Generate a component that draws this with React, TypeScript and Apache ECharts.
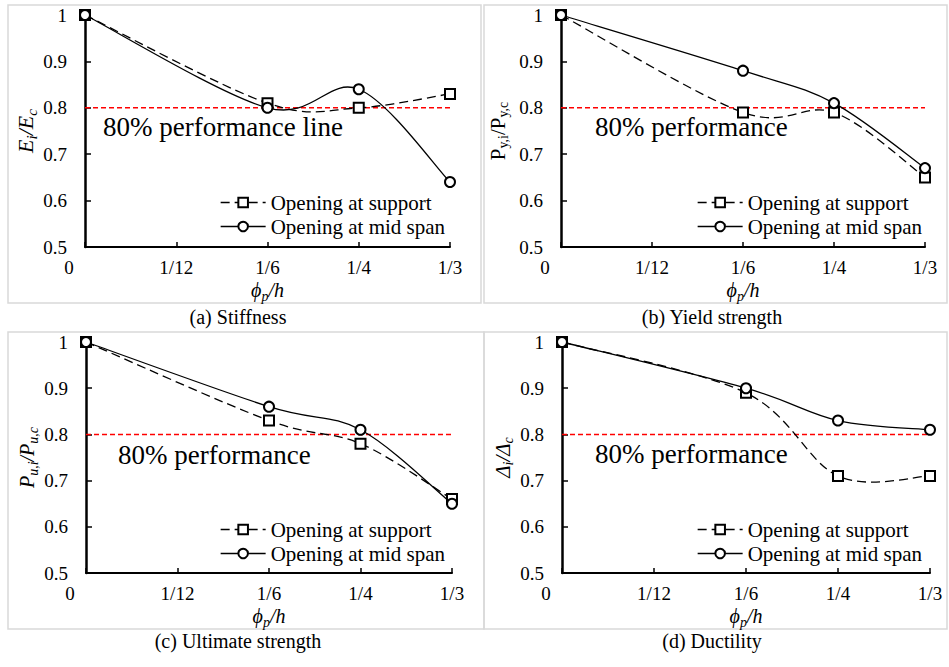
import React, { useEffect, useRef } from 'react';
import * as echarts from 'echarts';

// ---- data ----
const xTickLabels = ['0', '1/12', '1/6', '1/4', '1/3'];
// opening size phi_p/h expressed in units of 1/12
const openingRatio = [0, 2, 3, 4];
const seriesNames = ['Opening at support', 'Opening at mid span'];
const performanceLevel = 0.8;

const supportStiffness = [1, 0.81, 0.8, 0.83];
const midStiffness = [1, 0.8, 0.84, 0.64];
const supportYield = [1, 0.79, 0.79, 0.65];
const midYield = [1, 0.88, 0.81, 0.67];
const supportUltimate = [1, 0.83, 0.78, 0.66];
const midUltimate = [1, 0.86, 0.81, 0.65];
const supportDuctility = [1, 0.89, 0.71, 0.71];
const midDuctility = [1, 0.9, 0.83, 0.81];

const panelTitles = ['(a) Stiffness', '(b) Yield strength', '(c) Ultimate strength', '(d) Ductility'];
const performanceTexts = ['80% performance line', '80% performance', '80% performance', '80% performance'];
const yNames = [
  '{m|E}{s|i}{m|/E}{s|c}',
  '{m|P}{s|y,i}{m|/P}{s|y,c}',
  '{m|P}{s|u,i}{m|/P}{s|u,c}',
  '{m|Δ}{s|i}{m|/Δ}{s|c}',
];

const FONT = 'Liberation Serif';

const panelSupport = [supportStiffness, supportYield, supportUltimate, supportDuctility];
const panelMid = [midStiffness, midYield, midUltimate, midDuctility];

// ---- layout / style ----
const grids = [
  { left: 85, top: 15, width: 365, height: 232 },
  { left: 561, top: 15, width: 364, height: 232 },
  { left: 86, top: 342, width: 366, height: 231 },
  { left: 562, top: 342, width: 368, height: 231 },
];
const yNameGap = [47, 53, 48, 49];
const yNameSize = [22, 21, 20, 21];
const yNameItalic = [true, false, true, true];
const legendPos = [
  { left: 220, top: 192 },
  { left: 697, top: 192 },
  { left: 220, top: 519 },
  { left: 697, top: 519 },
];
const perfTextPos = [
  { x: 103, y: 127 },
  { x: 595, y: 127 },
  { x: 118, y: 455 },
  { x: 595, y: 454 },
];
const captionPos = [
  { x: 238, y: 317 },
  { x: 712, y: 317 },
  { x: 238, y: 641 },
  { x: 712, y: 641 },
];
const borders = [
  { x: 8, y: 5, w: 473, h: 298 },
  { x: 484, y: 5, w: 463, h: 298 },
  { x: 8, y: 332, w: 476, h: 297 },
  { x: 484, y: 332, w: 463, h: 297 },
];
const DASH = [9, 5];
const LINE_W = 1.3;

function richName(size: number, italic: boolean) {
  const style = italic ? 'italic' : 'normal';
  return {
    m: { fontFamily: FONT, fontSize: size, fontStyle: style, color: '#000', verticalAlign: 'top', lineHeight: size },
    s: {
      fontFamily: FONT,
      fontSize: Math.round(size * 0.68),
      fontStyle: style,
      color: '#000',
      verticalAlign: 'top',
      lineHeight: Math.round(size * 0.68),
      padding: [Math.round(size * 0.45), 0, 0, 0],
    },
  };
}

// Excel-like smoothed curve (Catmull-Rom as cubic Bezier) drawn through the axis scales
function curveSeries(i: number, vals: number[], dashed: boolean) {
  return {
    type: 'custom',
    xAxisIndex: i,
    yAxisIndex: i,
    silent: true,
    z: 2,
    data: openingRatio.map((x, j) => [x, vals[j]]),
    encode: { x: 0, y: 1 },
    renderItem: (params: any, api: any) => {
      if (params.dataIndex !== 0) return null;
      const pts = openingRatio.map((x, j) => api.coord([x, vals[j]]));
      const n = pts.length;
      let d = `M${pts[0][0]} ${pts[0][1]}`;
      for (let k = 0; k < n - 1; k++) {
        const p0 = pts[Math.max(k - 1, 0)];
        const p1 = pts[k];
        const p2 = pts[k + 1];
        const p3 = pts[Math.min(k + 2, n - 1)];
        const c1x = p1[0] + (p2[0] - p0[0]) / 6;
        const c1y = p1[1] + (p2[1] - p0[1]) / 6;
        const c2x = p2[0] - (p3[0] - p1[0]) / 6;
        const c2y = p2[1] - (p3[1] - p1[1]) / 6;
        d += ` C${c1x} ${c1y} ${c2x} ${c2y} ${p2[0]} ${p2[1]}`;
      }
      return {
        type: 'path',
        shape: { pathData: d },
        style: {
          fill: 'none',
          stroke: '#000',
          lineWidth: LINE_W,
          lineDash: dashed ? DASH : undefined,
        },
      };
    },
  };
}

function buildOption() {
  const xAxis: any[] = [];
  const yAxis: any[] = [];
  const series: any[] = [];
  const legend: any[] = [];
  const graphic: any[] = [];

  grids.forEach((g, i) => {
    xAxis.push({
      gridIndex: i,
      type: 'value',
      min: 0,
      max: 4,
      interval: 1,
      axisLine: { show: true, onZero: false, lineStyle: { color: '#000', width: 2 } },
      axisTick: { show: true, inside: true, length: 5, lineStyle: { color: '#000', width: 1.5 } },
      splitLine: { show: false },
      axisLabel: {
        margin: 11,
        color: '#000',
        fontFamily: FONT,
        fontSize: 19,
        formatter: (v: number) => (v === 0 ? '{z|0}' : xTickLabels[Math.round(v)]),
        rich: { z: { fontFamily: FONT, fontSize: 19, color: '#000', padding: [0, 32, 0, 0] } },
      },
      name: '{m|ϕ}{s|p}{m|/h}',
      nameLocation: 'middle',
      nameGap: 33,
      nameTextStyle: { rich: richName(20, true) },
    });
    yAxis.push({
      gridIndex: i,
      type: 'value',
      min: 0.5,
      max: 1,
      interval: 0.1,
      axisLine: { show: true, lineStyle: { color: '#000', width: 2.5 } },
      axisTick: { show: true, inside: true, length: 6, lineStyle: { color: '#000', width: 1.5 } },
      splitLine: { show: false },
      axisLabel: {
        margin: 18,
        color: '#000',
        fontFamily: FONT,
        fontSize: 19,
        formatter: (v: number) => String(Math.round(v * 10) / 10),
      },
      name: yNames[i],
      nameLocation: 'middle',
      nameRotate: 90,
      nameGap: yNameGap[i],
      nameTextStyle: { rich: richName(yNameSize[i], yNameItalic[i]) },
    });

    // 80% performance reference line
    series.push({
      type: 'line',
      name: 'perf' + i,
      xAxisIndex: i,
      yAxisIndex: i,
      data: [
        [openingRatio[0], performanceLevel],
        [openingRatio[openingRatio.length - 1], performanceLevel],
      ],
      symbol: 'none',
      silent: true,
      lineStyle: { color: '#ff0000', width: 1.5, type: [5, 3] },
      z: 1,
    });
    // smoothed curves
    series.push(curveSeries(i, panelSupport[i], true));
    series.push(curveSeries(i, panelMid[i], false));
    // markers (line series, line hidden; used for legend too)
    series.push({
      type: 'line',
      name: seriesNames[0],
      xAxisIndex: i,
      yAxisIndex: i,
      data: openingRatio.map((x, j) => [x, panelSupport[i][j]]),
      symbol: 'emptyRect',
      symbolSize: 10,
      itemStyle: { color: '#000', borderWidth: 1.3 },
      lineStyle: { color: '#000', width: LINE_W, type: DASH, opacity: 0 },
      z: 3,
    });
    series.push({
      type: 'line',
      name: seriesNames[1],
      xAxisIndex: i,
      yAxisIndex: i,
      data: openingRatio.map((x, j) => [x, panelMid[i][j]]),
      symbol: 'emptyCircle',
      symbolSize: 10,
      itemStyle: { color: '#000', borderWidth: 1.3 },
      lineStyle: { color: '#000', width: LINE_W, type: 'solid', opacity: 0 },
      z: 4,
    });

    legend.push({
      orient: 'vertical',
      left: legendPos[i].left,
      top: legendPos[i].top,
      padding: 0,
      itemWidth: 45,
      itemHeight: 12,
      itemGap: 3,
      selectedMode: false,
      data: [
        { name: seriesNames[0], lineStyle: { color: '#000', width: LINE_W, type: DASH, opacity: 1 } },
        { name: seriesNames[1], lineStyle: { color: '#000', width: LINE_W, type: 'solid', opacity: 1 } },
      ],
      formatter: (name: string) => `{t|${name}}`,
      textStyle: {
        fontFamily: FONT,
        fontSize: 21,
        color: '#000',
        lineHeight: 20,
        rich: { t: { fontFamily: FONT, fontSize: 21, color: '#000', lineHeight: 20 } },
      },
    });

    const b = borders[i];
    graphic.push({
      type: 'rect',
      shape: { x: b.x, y: b.y, width: b.w, height: b.h },
      style: { fill: 'none', stroke: '#d9d9d9', lineWidth: 1.5 },
      silent: true,
      z: -10,
    });
    graphic.push({
      type: 'text',
      x: perfTextPos[i].x,
      y: perfTextPos[i].y,
      style: {
        text: `{t|${performanceTexts[i]}}`,
        rich: { t: { fontFamily: FONT, fontSize: 27, fill: '#000', color: '#000' } },
        fontFamily: FONT,
        fontSize: 27,
        fill: '#000',
        align: 'left',
        verticalAlign: 'middle',
      },
      z: 10,
    });
    graphic.push({
      type: 'text',
      x: captionPos[i].x,
      y: captionPos[i].y,
      style: {
        text: `{t|${panelTitles[i]}}`,
        rich: { t: { fontFamily: FONT, fontSize: 20, fill: '#000', color: '#000' } },
        fontFamily: FONT,
        fontSize: 20,
        fill: '#000',
        align: 'center',
        verticalAlign: 'middle',
      },
    });
  });

  return {
    animation: false,
    backgroundColor: '#fff',
    textStyle: { fontFamily: FONT },
    grid: grids.map((g) => ({ ...g, containLabel: false })),
    xAxis,
    yAxis,
    legend,
    series,
    graphic,
  };
}

export default function App() {
  const ref = useRef<HTMLDivElement>(null);
  useEffect(() => {
    document.body.style.margin = '0';
    if (!ref.current) return;
    const chart = echarts.init(ref.current, undefined, { renderer: 'svg' });
    chart.setOption(buildOption() as any);
    return () => chart.dispose();
  }, []);
  return <div ref={ref} style={{ width: 949, height: 667 }} />;
}
